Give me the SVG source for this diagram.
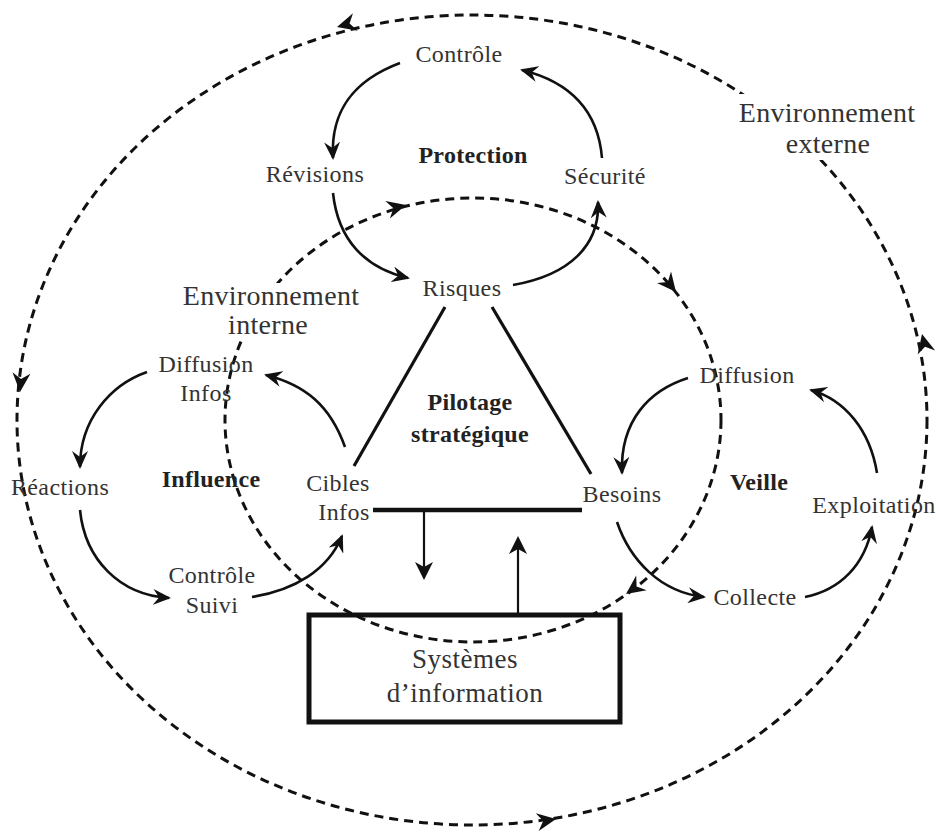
<svg xmlns="http://www.w3.org/2000/svg" width="936" height="837" viewBox="0 0 936 837">
<defs>
<style>
text{font-family:"Liberation Serif","Times New Roman",serif;text-anchor:middle;fill:#333;}
.t{font-size:24px;letter-spacing:0.4px;}
.b{font-size:24px;font-weight:bold;fill:#222;letter-spacing:0.3px;}
.env{font-size:28px;letter-spacing:0.3px;}
.sys{font-size:27px;letter-spacing:0.5px;}
.dash{fill:none;stroke:#111;stroke-width:3;stroke-dasharray:9 6;}
.arc{fill:none;stroke:#111;stroke-width:2.6;marker-end:url(#ah);}
.tri{fill:none;stroke:#111;stroke-width:3.2;}
.dh{fill:#111;}
</style>
<marker id="ah" viewBox="0 0 18 16" refX="16" refY="8" markerWidth="18" markerHeight="16" markerUnits="userSpaceOnUse" orient="auto">
<path d="M0,0 L18,8 L0,16 L6,8 z" fill="#111"/>
</marker>
<path id="dhead" d="M0,0 L-19,-9 L-13,0 L-19,9 z"/>
</defs>
<rect width="936" height="837" fill="#fff"/>

<g id="connectors">
<!-- outer dashed ellipse (external environment) -->
<ellipse class="dash" cx="472" cy="420" rx="455" ry="405"/>
<use href="#dhead" class="dh" transform="translate(337,27) rotate(164.8)"/>
<use href="#dhead" class="dh" transform="translate(20,392) rotate(94.4)"/>
<use href="#dhead" class="dh" transform="translate(556,819) rotate(-9.3)"/>
<use href="#dhead" class="dh" transform="translate(922,334) rotate(-103.4)"/>
<!-- inner dashed ellipse (internal environment) -->
<ellipse class="dash" cx="473" cy="420" rx="248" ry="222"/>
<use href="#dhead" class="dh" transform="translate(406,205) rotate(-14.6)"/>
<use href="#dhead" class="dh" transform="translate(676,292) rotate(51)"/>
<use href="#dhead" class="dh" transform="translate(626,594) rotate(144.4)"/>

<!-- Protection cycle -->
<path class="arc" d="M400,63 C360,78 330,105 333,158"/>
<path class="arc" d="M333,193 C338,240 365,268 408,278"/>
<path class="arc" d="M513,285 C570,275 600,245 598,202"/>
<path class="arc" d="M602,158 C598,110 570,82 522,70"/>
<!-- Influence cycle -->
<path class="arc" d="M147,372 C110,385 80,420 80,467"/>
<path class="arc" d="M80,510 C85,560 120,595 169,598"/>
<path class="arc" d="M252,597 C295,590 328,570 342,536"/>
<path class="arc" d="M345,447 C330,405 305,385 266,375"/>
<!-- Veille cycle -->
<path class="arc" d="M688,378 C650,390 620,420 622,473"/>
<path class="arc" d="M617,522 C630,560 660,592 704,597"/>
<path class="arc" d="M805,597 C840,590 865,565 872,527"/>
<path class="arc" d="M877,473 C870,430 845,400 811,390"/>

<!-- triangle -->
<line class="tri" x1="445" y1="307" x2="354" y2="466"/>
<line class="tri" x1="492" y1="307" x2="591" y2="474"/>
<line x1="373" y1="510" x2="582" y2="510" stroke="#111" stroke-width="4.5"/>
<!-- vertical arrows to/from information systems -->
<line x1="424" y1="510" x2="424" y2="572" stroke="#111" stroke-width="2.2"/>
<path d="M424,580 L415,562 L424,567 L433,562 z" fill="#111"/>
<line x1="518" y1="613" x2="518" y2="545" stroke="#111" stroke-width="2.2"/>
<path d="M518,536 L509,554 L518,549 L527,554 z" fill="#111"/>
</g>

<g id="systemes">
<rect x="309" y="615" width="311" height="107" fill="none" stroke="#111" stroke-width="5"/>
<text class="sys" x="465" y="668">Systèmes</text>
<text class="sys" x="465" y="702">d’information</text>
</g>

<g id="env-externe">
<rect x="735" y="94" width="186" height="66" fill="#fff"/>
<text class="env" x="827" y="122">Environnement</text>
<text class="env" x="828" y="153">externe</text>
</g>
<g id="env-interne">
<rect x="180" y="283" width="184" height="58" fill="#fff"/>
<text class="env" x="271" y="305">Environnement</text>
<text class="env" x="268" y="334">interne</text>
</g>

<g id="controle"><text class="t" x="459" y="62">Contrôle</text></g>
<g id="revisions"><text class="t" x="315" y="182">Révisions</text></g>
<g id="protection"><text class="b" x="473" y="163">Protection</text></g>
<g id="securite"><text class="t" x="605" y="184">Sécurité</text></g>
<g id="risques"><text class="t" x="462" y="296">Risques</text></g>
<g id="pilotage"><text class="b" x="470" y="410">Pilotage</text><text class="b" x="470" y="442">stratégique</text></g>

<g id="diffusion-infos"><text class="t" x="206" y="372">Diffusion</text><text class="t" x="206" y="401">Infos</text></g>
<g id="reactions"><text class="t" x="60" y="495">Réactions</text></g>
<g id="influence"><text class="b" x="211" y="487">Influence</text></g>
<g id="cibles-infos"><text class="t" x="338" y="491">Cibles</text><text class="t" x="344" y="520">Infos</text></g>
<g id="controle-suivi"><text class="t" x="212" y="583">Contrôle</text><text class="t" x="212" y="613">Suivi</text></g>

<g id="diffusion"><text class="t" x="747" y="383">Diffusion</text></g>
<g id="besoins"><text class="t" x="622" y="502">Besoins</text></g>
<g id="veille"><text class="b" x="759" y="490">Veille</text></g>
<g id="exploitation"><text class="t" x="874" y="513">Exploitation</text></g>
<g id="collecte"><text class="t" x="755" y="605">Collecte</text></g>
</svg>
